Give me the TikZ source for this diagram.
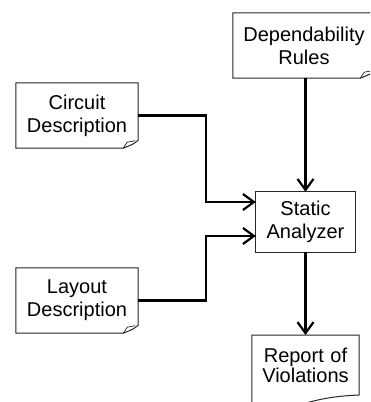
\documentclass[tikz,border=0pt]{standalone}
\usepackage{fontspec}
\setmainfont{Liberation Sans}
\usetikzlibrary{arrows.meta,calc}
\newcommand\foldbox[1]{%
  \draw[boxline] (#1.north west) -- (#1.north east) -- ($(#1.south east)+(0,-8)$)
    .. controls ($(#1.south east)+(-5,-4)$) .. ($(#1.south east)+(-15,0)$)
    -- (#1.south west) -- cycle;
  \draw[boxline, line width=0.7pt] ($(#1.south east)+(-15,0)$) -- ($(#1.south east)+(-11,-6)$)
    -- ($(#1.south east)+(-3,-7.5)$);}
\begin{document}
\begin{tikzpicture}[x=1pt,y=-1pt,
  lbl/.style={font=\fontsize{20}{23}\selectfont, align=center, inner sep=0pt},
  boxline/.style={line width=1pt, draw=black!85},
  arr/.style={line width=2.4pt, -{Straight Barb[length=11pt,width=16pt,line width=2.2pt]}}]
\useasboundingbox (0,0) rectangle (370,402);
\clip (0,0) rectangle (370,402);
\fill[white] (0,0) rectangle (370,402);

\node[lbl, minimum width=122pt, minimum height=65pt] (cir) at (77,115.5) {Circuit\\Description};
\node[lbl, minimum width=122pt, minimum height=65pt] (lay) at (77,300.5) {Layout\\Description};
\node[lbl, minimum width=142pt, minimum height=65pt] (dep) at (304,45.5) {Dependability\\Rules};
\node[lbl, minimum width=99pt, minimum height=60pt] (sta) at (305.5,222) {Static\\Analyzer};
\node[lbl, text width=107pt, minimum height=60pt, anchor=north] (rep) at (305.5,335) {\vspace*{-3pt}Report of\\Violations};

\foldbox{cir}
\foldbox{lay}
\foldbox{dep}
\draw[boxline] (sta.north west) rectangle (sta.south east);
\draw[boxline] (rep.south west |- 0,420) -- (rep.north west) -- (rep.north east) -- (rep.east |- 0,395)
  .. controls (335,396) and (318,399) .. (300,405);

\draw[arr] (cir.east) -- (206,115.5) |- ([yshift=20pt]sta.west);
\draw[arr] (lay.east) -- (206,300.5) |- ([yshift=-14pt]sta.west);
\draw[arr] (sta.north |- dep.south) -- (sta.north);
\draw[arr] (sta.south) -- (sta.south |- rep.north);
\end{tikzpicture}
\end{document}
